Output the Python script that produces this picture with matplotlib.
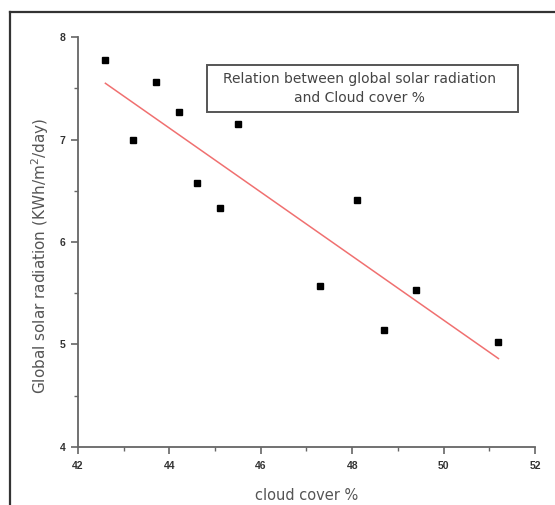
import numpy as np
import matplotlib
matplotlib.use("Agg")
import matplotlib.pyplot as plt
from matplotlib.lines import Line2D
from matplotlib.patches import Rectangle

plt.rcParams['font.family'] = ['Liberation Sans', 'DejaVu Sans']

cloud_cover = [42.6, 43.2, 43.7, 44.2, 44.6, 45.1, 45.5, 47.3, 48.1, 48.7, 49.4, 51.2]
radiation = [7.78, 7.00, 7.56, 7.27, 6.58, 6.33, 7.15, 5.57, 6.41, 5.14, 5.53, 5.02]
x_ticks = [42, 44, 46, 48, 50, 52]
y_ticks = [4, 5, 6, 7, 8]

fig = plt.figure(figsize=(5.55, 5.05), dpi=100)
ax = fig.add_axes([0.1405, 0.1149, 0.8235, 0.8118])

# linear fit
slope, intercept = np.polyfit(cloud_cover, radiation, 1)
fit_x = np.array([min(cloud_cover), max(cloud_cover)])
ax.plot(fit_x, slope * fit_x + intercept, color='#f07070', lw=1.1)

ax.plot(cloud_cover, radiation, 's', color='black', markersize=5)

ax.set_xlim(42, 52)
ax.set_ylim(4, 8)
ax.set_xticks(x_ticks, labels=[str(t) for t in x_ticks], fontweight='bold',
              fontsize=7.5, color='#333333')
ax.set_yticks(y_ticks, labels=[str(t) for t in y_ticks], fontweight='bold',
              fontsize=7.5, color='#333333')
ax.set_xticks([43, 45, 47, 49, 51], minor=True)
ax.set_yticks([4.5, 5.5, 6.5, 7.5], minor=True)

for side in ['top', 'right']:
    ax.spines[side].set_visible(False)
for side in ['left', 'bottom']:
    ax.spines[side].set_color('#666666')
    ax.spines[side].set_linewidth(1.3)

ax.tick_params(which='major', direction='out', length=5, width=1.2, color='#666666', pad=5)
ax.tick_params(axis='y', which='major', pad=4)
ax.tick_params(which='minor', direction='out', length=3, width=1.0, color='#666666')

ax.set_xlabel('cloud cover %', fontsize=10.5, color='#555555', labelpad=12,
              family=['DejaVu Sans'])
ax.set_ylabel('Global solar radiation (KWh/m$^2$/day)', fontsize=11, color='#555555',
              labelpad=6, family=['DejaVu Sans'])
ax.yaxis.label.set_y(0.466)

# title box
ax.add_patch(Rectangle((0.282, 0.817), 0.681, 0.115, transform=ax.transAxes,
                       facecolor='white', edgecolor='#555555', lw=1.4, zorder=3))
ax.text(0.615, 0.8745, 'Relation between global solar radiation\nand Cloud cover %',
        transform=ax.transAxes, ha='center', va='center', fontsize=10, color='#444444',
        linespacing=1.45, family=['DejaVu Sans'], zorder=4)

# outer frame (top and left edges only)
fig.add_artist(Line2D([10 / 555, 10 / 555], [0, 1 - 12 / 505], transform=fig.transFigure,
                      color='#333333', lw=1.6))
fig.add_artist(Line2D([10 / 555, 1], [1 - 12 / 505, 1 - 12 / 505], transform=fig.transFigure,
                      color='#333333', lw=1.6))

fig.savefig('out.png', dpi=100)
